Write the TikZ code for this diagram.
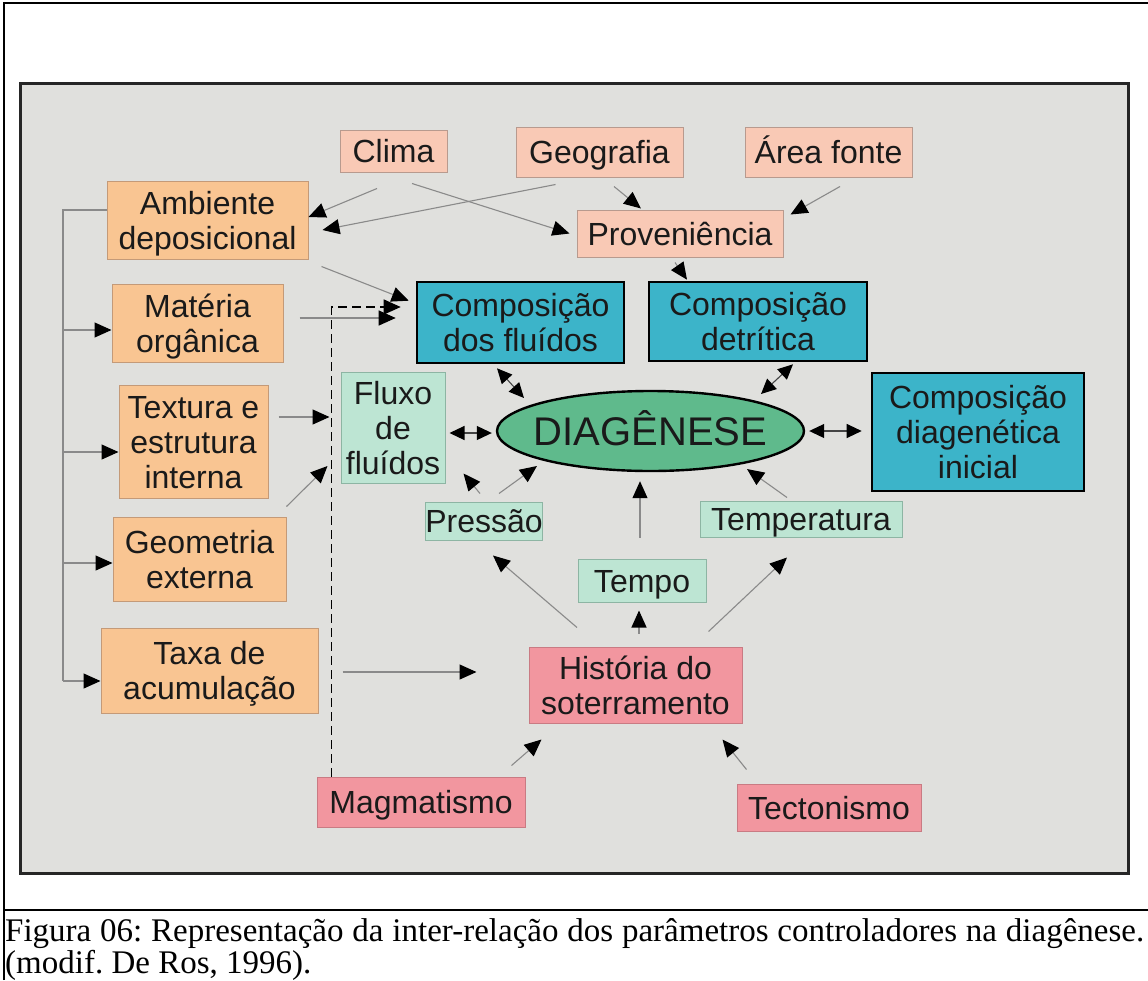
\documentclass[tikz,border=0pt]{standalone}
\usepackage{fontspec}
\setmainfont{Liberation Sans}
\newfontfamily\capfont{Liberation Serif}
\usetikzlibrary{arrows.meta,shapes.geometric}
\frenchspacing
\definecolor{panelgray}{HTML}{E0E0DD}
\definecolor{salmon}{HTML}{F9C9B5}
\definecolor{salmonb}{HTML}{B89A8E}
\definecolor{orangeb}{HTML}{F9C592}
\definecolor{orangebd}{HTML}{C49A78}
\definecolor{tealb}{HTML}{3CB4C9}
\definecolor{mint}{HTML}{BDE5D3}
\definecolor{mintb}{HTML}{8DB5A3}
\definecolor{greenel}{HTML}{5FBA8C}
\definecolor{pinkb}{HTML}{F2969F}
\definecolor{pinkbd}{HTML}{C97B83}
\definecolor{linegray}{HTML}{8A8A8A}
\definecolor{darkline}{HTML}{444444}
\definecolor{txt}{HTML}{1A1A1A}
\newcommand{\fsz}{\fontsize{32}{35}\selectfont}
\tikzset{
  bx/.style={inner sep=0pt, align=center, font=\fsz, text=txt, line width=1pt, text height=23pt, text depth=0pt},
  ltwo/.style={text height=58pt},
  lthree/.style={text height=93pt},
  clbox/.style={bx, fill=salmon, draw=salmonb},
  orbox/.style={bx, fill=orangeb, draw=orangebd},
  tlbox/.style={bx, fill=tealb, draw=black, line width=2.6pt},
  mnbox/.style={bx, fill=mint, draw=mintb},
  pkbox/.style={bx, fill=pinkb, draw=pinkbd},
  gl/.style={draw=linegray, line width=1.1pt},
  arr/.style={gl, -{Triangle[length=17pt,width=15pt,color=black]}},
  darr/.style={draw=darkline, line width=1.1pt, {Triangle[length=15pt,width=14pt,color=black]}-{Triangle[length=15pt,width=14pt,color=black]}},
  dsh/.style={draw=black, line width=1.4pt, dash pattern=on 9pt off 5pt, -{Triangle[length=17pt,width=15pt,color=black]}},
}
\begin{document}
\begin{tikzpicture}[x=1pt,y=-1pt]
\useasboundingbox (0,0) rectangle (1148,980);
% page frame
\draw[line width=2pt] (4,980) -- (4,3) -- (1148,3);
\draw[line width=2pt] (4,910) -- (1148,910);
% panel
\draw[fill=panelgray, draw=black!85, line width=3pt] (20,83) rectangle (1128,873);
% nodes
\node[clbox, minimum width=107pt, minimum height=42pt] (clima) at (393.5,151) {Clima};
\node[clbox, minimum width=167pt, minimum height=50pt] (geo) at (599.5,152) {Geografia};
\node[clbox, minimum width=167pt, minimum height=50pt] (area) at (828.5,152) {Área fonte};
\node[orbox, ltwo, minimum width=201pt, minimum height=78pt] (amb) at (207.5,220) {Ambiente\\deposicional};
\node[clbox, minimum width=206pt, minimum height=47pt] (prov) at (680,233.5) {Proveniência};
\node[orbox, ltwo, minimum width=171pt, minimum height=78pt] (mat) at (197.5,323) {Matéria\\orgânica};
\node[tlbox, ltwo, minimum width=207pt, minimum height=81pt] (compf) at (520.5,322.5) {Composição\\dos fluídos};
\node[tlbox, ltwo, minimum width=218pt, minimum height=79pt] (compd) at (758,321.5) {Composição\\detrítica};
\node[mnbox, lthree, minimum width=104pt, minimum height=111pt] (fluxo) at (393,427.5) {Fluxo\\de\\fluídos};
\node[ellipse, fill=greenel, draw=black, line width=2.4pt, minimum width=307pt, minimum height=80pt, inner sep=0pt, font=\fontsize{40}{44}\selectfont, text=txt] (diag) at (650.5,431) {\smash{\raisebox{-14.3pt}{\makebox[0pt]{DIAGÊNESE}}}};
\node[orbox, lthree, minimum width=149pt, minimum height=113pt] (text) at (193.5,441.5) {Textura e\\estrutura\\interna};
\node[tlbox, lthree, minimum width=212pt, minimum height=118pt] (cdi) at (978,432) {Composição\\diagenética\\inicial};
\node[mnbox, minimum width=116pt, minimum height=38pt] (press) at (484,521) {Pressão};
\node[mnbox, minimum width=202pt, minimum height=36pt] (temp) at (801,519) {Temperatura};
\node[orbox, ltwo, minimum width=173pt, minimum height=84pt] (geom) at (199.5,559) {Geometria\\externa};
\node[mnbox, minimum width=128pt, minimum height=43pt] (tempo) at (642,580.5) {Tempo};
\node[orbox, ltwo, minimum width=217pt, minimum height=85pt] (taxa) at (209.5,670.5) {Taxa de\\acumulação};
\node[pkbox, ltwo, minimum width=213pt, minimum height=76pt] (hist) at (635.5,685) {História do\\soterramento};
\node[pkbox, minimum width=208pt, minimum height=50pt] (mag) at (421,802) {Magmatismo};
\node[pkbox, minimum width=184pt, minimum height=47pt] (tect) at (829,807.5) {Tectonismo};
% left bracket
\coordinate (bkt) at (63,210);
\coordinate (bkb) at (63,681);
\draw[gl] ([shift={(0,-10)}]amb.west) -- (bkt) -- (bkb);
\draw[arr] ([shift={(-49,7)}]mat.west) -- ([shift={(0,7)}]mat.west);
\draw[arr] ([shift={(-56,10.5)}]text.west) -- ([shift={(0,10.5)}]text.west);
\draw[arr] ([shift={(-50,4)}]geom.west) -- ([shift={(0,4)}]geom.west);
\draw[arr] ([shift={(-38,10.5)}]taxa.west) -- ([shift={(0,10.5)}]taxa.west);
% top connectors
\draw[arr] ([shift={(-16.5,16)}]clima.south) -- ([shift={(0,-3)}]amb.east);
\draw[arr] ([shift={(40,7)}]geo.south west) -- ([shift={(14,10)}]amb.east);
\draw[arr] ([shift={(18.5,11)}]clima.south) -- ([shift={(-7,0)}]prov.west);
\draw[arr] ([shift={(14.5,9)}]geo.south) -- ([shift={(-39,-1)}]prov.north);
\draw[arr] ([shift={(11.5,9)}]area.south) -- ([shift={(7,5)}]prov.north east);
\draw[arr] ([shift={(-5,5)}]prov.south) -- ([shift={(-71,-1)}]compd.north);
\draw[arr] ([shift={(13,7)}]amb.south east) -- ([shift={(-7,20)}]compf.north west);
\draw[arr] ([shift={(16,-5)}]mat.east) -- ([shift={(-20,-4.5)}]compf.west);
\draw[dsh] ([shift={(15,0)}]mag.north west) |- ([shift={(-15,-15.5)}]compf.west);
\draw[arr] ([shift={(10,-24.5)}]text.east) -- ([shift={(-11,-10.5)}]fluxo.west);
\draw[arr] ([shift={(0,-10)}]geom.north east) -- ([shift={(-13,38.5)}]fluxo.west);
% double arrows
\draw[darr] ([shift={(-23.5,4)}]compf.south) -- ([shift={(-126.5,-33)}]diag.center);
\draw[darr] ([shift={(35,2)}]compd.south) -- ([shift={(110.5,-37)}]diag.center);
\draw[darr] ([shift={(4,5.5)}]fluxo.east) -- ([shift={(-4,2)}]diag.west);
\draw[darr] ([shift={(4,0)}]diag.east) -- ([shift={(-9,-1)}]cdi.west);
% lower connectors
\draw[arr] ([shift={(-4,-8)}]press.north) -- ([shift={(18,-10)}]fluxo.south east);
\draw[arr] ([shift={(15,-8)}]press.north) -- ([shift={(-113.5,35)}]diag.center);
\draw[arr] ([shift={(-2,-21)}]tempo.north) -- ([shift={(-10.5,9)}]diag.south);
\draw[arr] ([shift={(-14,-3)}]temp.north) -- ([shift={(96.5,38)}]diag.center);
\draw[arr] ([shift={(-58.5,-19)}]hist.north) -- ([shift={(9,15)}]press.south);
\draw[arr] ([shift={(3.5,-13)}]hist.north) -- ([shift={(-3,8)}]tempo.south);
\draw[arr] ([shift={(-34,-15)}]hist.north east) -- ([shift={(-14,20)}]temp.south);
\draw[arr] ([shift={(24,1.5)}]taxa.east) -- ([shift={(-52,-13)}]hist.west);
\draw[arr] ([shift={(-14,-11)}]mag.north east) -- ([shift={(13,16)}]hist.south west);
\draw[arr] ([shift={(10,-14)}]tect.north west) -- ([shift={(-20,16)}]hist.south east);
% caption
\node[anchor=base west, inner sep=0pt, font=\capfont\fontsize{33}{36}\selectfont] (cap1) at (5,941) {\makebox[1139pt][s]{Figura 06: Representação da inter-relação dos parâmetros controladores na diagênese.}};
\node[anchor=base west, inner sep=0pt, font=\capfont\fontsize{33}{36}\selectfont] (cap2) at (5,973) {(modif. De Ros, 1996).};
\end{tikzpicture}
\end{document}
